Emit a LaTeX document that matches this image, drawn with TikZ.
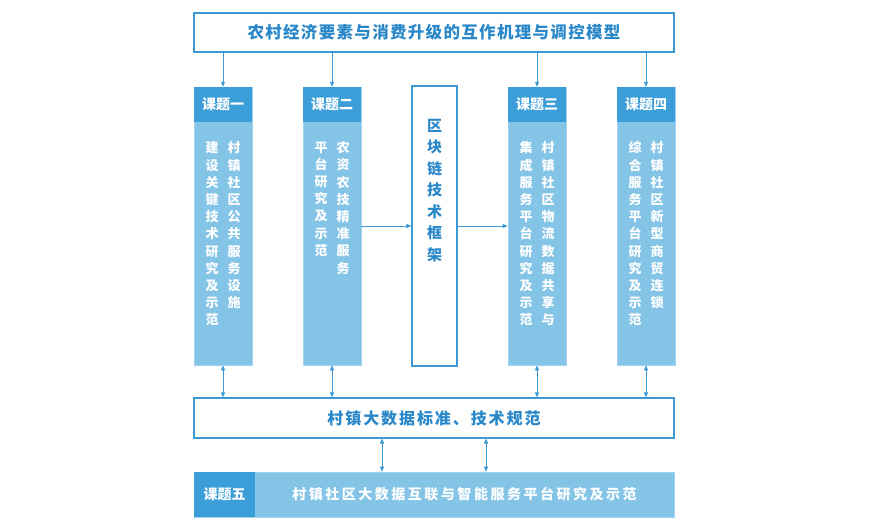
\documentclass[tikz,border=0pt]{standalone}
\usepackage{fontspec}
\setmainfont{Noto Sans CJK SC}[BoldFont={Noto Sans CJK SC Black}]
\usetikzlibrary{arrows.meta}
\definecolor{hdr}{HTML}{3C9ED8}
\definecolor{bod}{HTML}{84C4E7}
\definecolor{bodedge}{HTML}{A3D4EF}
\definecolor{edge}{HTML}{3B9AD5}
\definecolor{txt}{HTML}{2A88C9}
\begin{document}
\begin{tikzpicture}[x=1pt,y=-1pt,
  frame/.style={draw=edge,line width=1.1pt,fill=white,minimum width=480pt,inner sep=0pt},
  body/.style={draw=bodedge,line width=0.8pt,fill=bod,minimum width=58pt,minimum height=278pt,inner sep=0pt},
  head/.style={fill=hdr,minimum width=58pt,minimum height=35pt,inner sep=0pt,text=white,font=\fontsize{14}{14}\selectfont\bfseries},
  vtext/.style={anchor=north,inner sep=0pt,align=center,text=white,font=\fontsize{13}{17.2}\selectfont\bfseries},
  arr/.style={draw=edge,line width=0.8pt,-{Triangle[length=5pt,width=4pt]}},
  darr/.style={draw=edge,line width=0.8pt,{Triangle[length=5pt,width=4pt]}-{Triangle[length=5pt,width=4pt]}}]
\useasboundingbox (0,0) rectangle (870,530);

% top box
\node[frame,minimum height=39pt,text=txt,font=\fontsize{16.5}{16.5}\selectfont\bfseries\addfontfeature{LetterSpace=8}] (top) at (434,32.5) {农村经济要素与消费升级的互作机理与调控模型};

% columns
\node[body] (c1) at (223,226) {};
\node[body] (c2) at (332,226) {};
\node[body] (c3) at (537,226) {};
\node[body] (c4) at (646,226) {};
\node[head] (h1) at (223,104.5) {课题一};
\node[head] (h2) at (332,104.5) {课题二};
\node[head] (h3) at (537,104.5) {课题三};
\node[head] (h4) at (646,104.5) {课题四};

\node[vtext] (t1r) at (234,141.5) {村\\镇\\社\\区\\公\\共\\服\\务\\设\\施};
\node[vtext] (t1l) at (212,141.5) {建\\设\\关\\键\\技\\术\\研\\究\\及\\示\\范};
\node[vtext] (t2r) at (343,141.5) {农\\资\\农\\技\\精\\准\\服\\务};
\node[vtext] (t2l) at (321,141.5) {平\\台\\研\\究\\及\\示\\范};
\node[vtext] (t3r) at (548,141.5) {村\\镇\\社\\区\\物\\流\\数\\据\\共\\享\\与};
\node[vtext] (t3l) at (526,141.5) {集\\成\\服\\务\\平\\台\\研\\究\\及\\示\\范};
\node[vtext] (t4r) at (657,141.5) {村\\镇\\社\\区\\新\\型\\商\\贸\\连\\锁};
\node[vtext] (t4l) at (635,141.5) {综\\合\\服\\务\\平\\台\\研\\究\\及\\示\\范};

% block chain box
\node[draw=edge,line width=1.1pt,fill=white,minimum width=45pt,minimum height=280pt,inner sep=0pt] (blk) at (434.5,226) {};
\node[anchor=north,inner sep=0pt,align=center,text=txt,font=\fontsize{15}{21.5}\selectfont\bfseries] (blkt) at (434.5,119) {区\\块\\链\\技\\术\\框\\架};

% middle box
\node[frame,minimum height=40pt,text=txt,font=\fontsize{16}{16}\selectfont\bfseries\addfontfeature{LetterSpace=12}] (mid) at (434,418) {村镇大数据标准、技术规范};

% bottom box
\node[draw=bodedge,line width=0.8pt,fill=bod,minimum width=480pt,minimum height=45pt,inner sep=0pt] (bot) at (434,494.5) {};
\node[fill=hdr,minimum width=61pt,minimum height=45pt,inner sep=0pt,text=white,font=\fontsize{14}{14}\selectfont\bfseries] (h5) at (224.5,494.5) {课题五};
\node[inner sep=0pt,text=white,font=\fontsize{14}{14}\selectfont\bfseries\addfontfeature{LetterSpace=18}] (bott) at (464.5,494.5) {村镇社区大数据互联与智能服务平台研究及示范};

% arrows from top
\foreach \h in {h1,h2,h3,h4}
  \draw[arr] (top.south -| \h) -- (\h.north);

% horizontal arrows
\draw[arr] (c2.east) -- (blk.west);
\draw[arr] (blk.east) -- (c3.west);

% double arrows columns to middle
\foreach \c in {c1,c2,c3,c4}
  \draw[darr] (\c.south) -- (\c.south |- mid.north);

% double arrows middle to bottom
\coordinate (b1) at (382,455);
\coordinate (b2) at (486,455);
\draw[darr] (mid.south -| b1) -- (bot.north -| b1);
\draw[darr] (mid.south -| b2) -- (bot.north -| b2);
\end{tikzpicture}
\end{document}
